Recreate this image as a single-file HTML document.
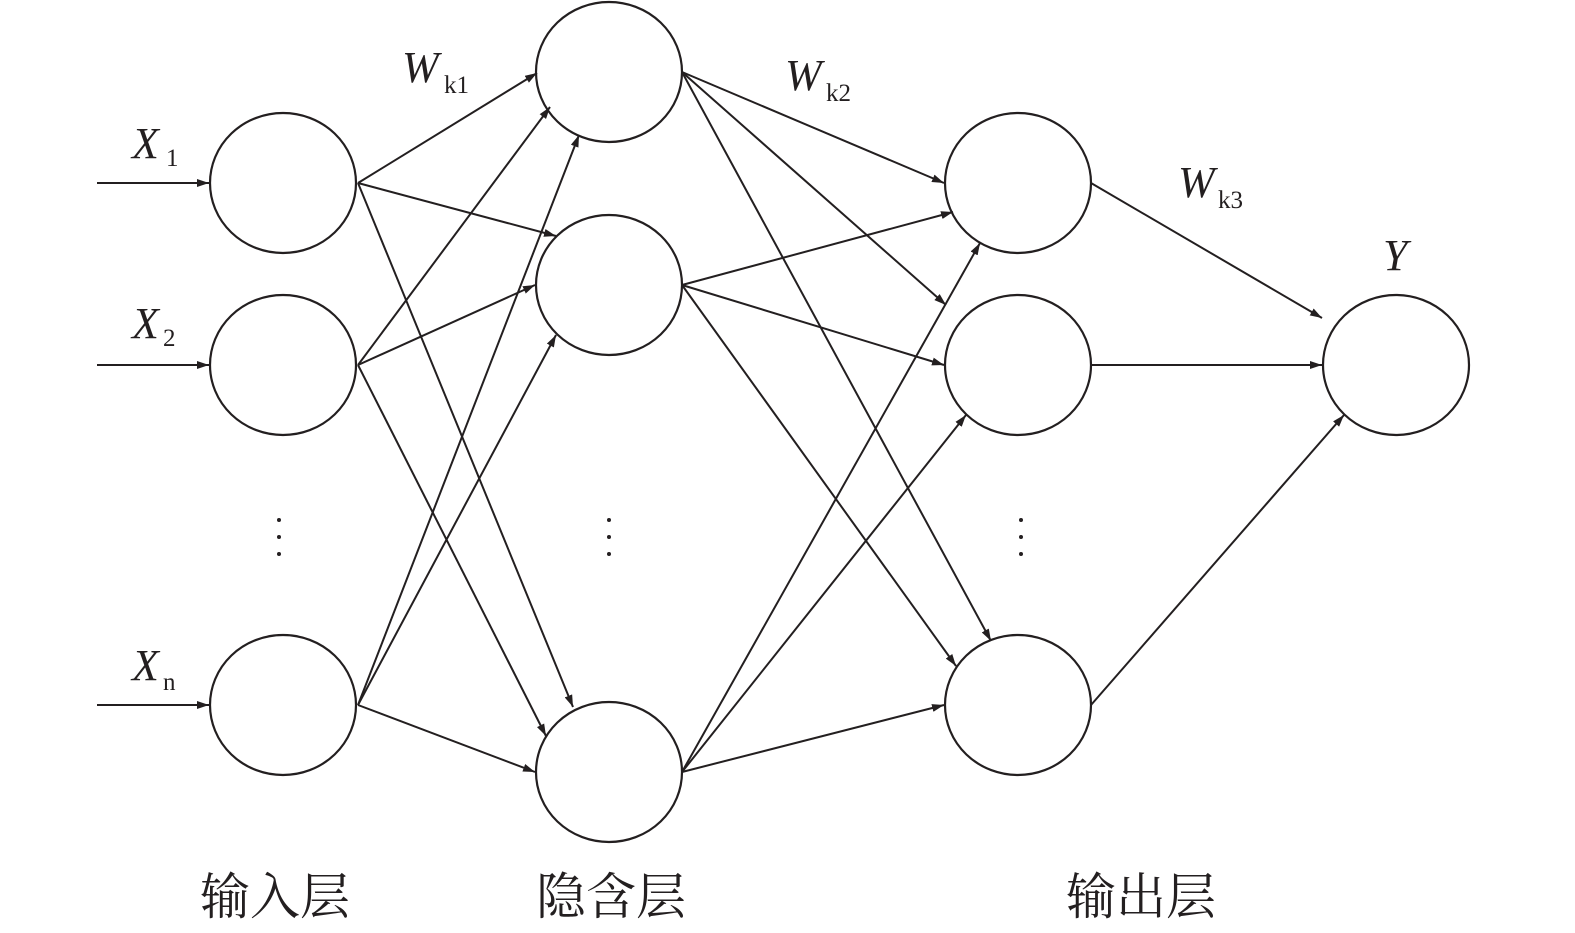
<!DOCTYPE html>
<html><head><meta charset="utf-8"><style>
html,body{margin:0;padding:0;background:#fff;}
svg{display:block;}
.it{font-family:"Liberation Serif",serif;font-style:italic;font-size:44px;fill:#231f20;}
.sb{font-family:"Liberation Serif",serif;font-size:25px;fill:#231f20;}
.cn{font-family:"Liberation Serif","Noto Serif CJK SC",serif;font-size:50px;fill:#231f20;}
</style></head><body>
<svg width="1575" height="933" viewBox="0 0 1575 933" xmlns="http://www.w3.org/2000/svg">
<defs><marker id="a" viewBox="0 0 12 8" refX="12" refY="4" markerWidth="12" markerHeight="8" markerUnits="userSpaceOnUse" orient="auto"><path d="M0,0 L12,4 L0,8 z" fill="#231f20"/></marker></defs>
<g fill="none" stroke="#231f20" stroke-width="2.2">
<ellipse cx="283" cy="183" rx="73" ry="70"/>
<ellipse cx="283" cy="365" rx="73" ry="70"/>
<ellipse cx="283" cy="705" rx="73" ry="70"/>
<ellipse cx="609" cy="72" rx="73" ry="70"/>
<ellipse cx="609" cy="285" rx="73" ry="70"/>
<ellipse cx="609" cy="772" rx="73" ry="70"/>
<ellipse cx="1018" cy="183" rx="73" ry="70"/>
<ellipse cx="1018" cy="365" rx="73" ry="70"/>
<ellipse cx="1018" cy="705" rx="73" ry="70"/>
<ellipse cx="1396" cy="365" rx="73" ry="70"/>
</g>
<g stroke="#231f20" stroke-width="2" marker-end="url(#a)">
<line x1="97" y1="183" x2="209" y2="183"/>
<line x1="97" y1="365" x2="209" y2="365"/>
<line x1="97" y1="705" x2="209" y2="705"/>
<line x1="358" y1="183" x2="537" y2="73"/>
<line x1="358" y1="183" x2="556" y2="236"/>
<line x1="358" y1="183" x2="573" y2="707"/>
<line x1="358" y1="365" x2="550" y2="107"/>
<line x1="358" y1="365" x2="535" y2="285"/>
<line x1="358" y1="365" x2="546" y2="736"/>
<line x1="358" y1="705" x2="579" y2="135"/>
<line x1="358" y1="705" x2="556" y2="335"/>
<line x1="358" y1="705" x2="535" y2="772"/>
<line x1="682" y1="72" x2="944" y2="183"/>
<line x1="682" y1="72" x2="946" y2="305"/>
<line x1="682" y1="72" x2="991" y2="641"/>
<line x1="682" y1="285" x2="953" y2="212"/>
<line x1="682" y1="285" x2="944" y2="365"/>
<line x1="682" y1="285" x2="956" y2="666"/>
<line x1="682" y1="772" x2="980" y2="243"/>
<line x1="682" y1="772" x2="966" y2="415"/>
<line x1="682" y1="772" x2="944" y2="705"/>
<line x1="1091" y1="183" x2="1322" y2="318"/>
<line x1="1091" y1="365" x2="1322" y2="365"/>
<line x1="1091" y1="705" x2="1344" y2="415"/>
</g>
<g fill="#231f20">
<circle cx="279" cy="520" r="2"/><circle cx="279" cy="537" r="2"/><circle cx="279" cy="554" r="2"/>
<circle cx="609" cy="520" r="2"/><circle cx="609" cy="537" r="2"/><circle cx="609" cy="554" r="2"/>
<circle cx="1021" cy="520" r="2"/><circle cx="1021" cy="537" r="2"/><circle cx="1021" cy="554" r="2"/>
</g>
<text class="it" x="132" y="158">X</text><text class="sb" x="166" y="166">1</text>
<text class="it" x="132" y="338">X</text><text class="sb" x="163" y="346">2</text>
<text class="it" x="132" y="680">X</text><text class="sb" x="163" y="690">n</text>
<text class="it" x="402" y="82">W</text><text class="sb" x="444" y="93">k1</text>
<text class="it" x="785" y="90">W</text><text class="sb" x="826" y="101">k2</text>
<text class="it" x="1178" y="197">W</text><text class="sb" x="1218" y="208">k3</text>
<text class="it" x="1383" y="270">Y</text>
<text class="cn" x="200" y="914">输入层</text>
<text class="cn" x="536" y="914">隐含层</text>
<text class="cn" x="1066" y="914">输出层</text>
</svg>
</body></html>
